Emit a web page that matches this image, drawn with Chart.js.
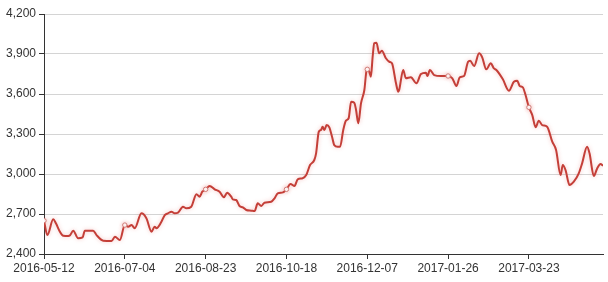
<!DOCTYPE html>
<html>
<head>
<meta charset="utf-8">
<script src="https://cdn.jsdelivr.net/npm/chart.js@4"></script>
<style>
html,body{margin:0;padding:0;background:#fff;}
#wrap{width:608px;height:282px;}
</style>
</head>
<body>
<div id="wrap"><canvas id="c" width="608" height="282"></canvas></div>
<script>
// trading-day index of each sampled point
const tradingDay = [0,1.5,4.1,5.3,7.1,8.6,10.8,11.6,13.0,15.2,17.2,18.2,21.9,23.4,26.4,30.1,31.6,33.8,
36,37.5,39.0,40.4,43.4,45.6,47.9,49.3,50.1,52.3,53.8,55.2,56.8,58.2,59.7,61.9,63.4,65.6,67.9,69.3,70.5,
72,73.8,76.0,78.2,80.1,81.6,83.4,84.1,85.6,87.1,88.6,90.1,92.3,93.8,95.2,96.8,98.2,101.2,102.7,104.1,106.4,
108,109.8,111.6,113.0,115.2,116.8,118.5,120.4,121.2,122.4,123.4,124.1,124.9,125.9,127.1,128.3,129.3,130.8,131.9,133.3,134.5,135.7,136.8,138.2,139.0,140.0,141.2,142.7,143.7,
144,144.9,145.6,146.4,147.1,148.1,149.3,150.5,152.3,153.8,155.0,156.8,157.8,158.2,160.0,161.2,163.4,165.9,167.9,170.1,170.8,171.9,173.8,176.8,
180,181.9,183.7,185.2,187.1,188.9,189.8,191.6,193.8,195.2,197.0,199.0,200.4,201.5,204.4,207.1,209.3,210.8,211.9,213.3,214.5,
216,217.5,219.0,220.4,221.9,224.1,226.4,228.1,230.1,231.1,232.3,234.1,236.0,238.2,239.7,241.9,243.0,244.9,246.4,247.9,249];
// price values
const closePrice = [2650,2542,2660,2630,2567,2537,2535,2540,2575,2518,2525,2575,2575,2542,2500,2497,2530,2505,
2617,2605,2617,2593,2705,2668,2567,2605,2593,2642,2692,2705,2717,2705,2710,2755,2743,2755,2848,2830,2867,
2885,2910,2885,2867,2825,2860,2830,2810,2805,2760,2750,2730,2725,2722,2780,2760,2785,2792,2818,2855,2862,
2885,2925,2910,2960,2968,2992,3067,3105,3155,3317,3330,3355,3330,3367,3350,3280,3217,3205,3205,3330,3400,3418,3542,3535,3480,3380,3530,3630,3780,
3785,3767,3730,3880,3980,3985,3905,3925,3868,3842,3830,3680,3617,3630,3780,3718,3725,3680,3750,3760,3735,3780,3742,3735,
3735,3718,3660,3725,3735,3842,3850,3810,3905,3875,3785,3830,3792,3780,3710,3625,3692,3700,3660,3650,3592,
3500,3442,3350,3400,3367,3355,3242,3180,2992,3067,3030,2917,2942,3005,3080,3205,3155,2985,3042,3075,3062];
// x-axis tick labels (every 36 trading days)
const dateLabels = ['2016-05-12','2016-07-04','2016-08-23','2016-10-18','2016-12-07','2017-01-26','2017-03-23'];
const labelStep = 36;
const lastDay = 249;
// y-axis ticks
const yTicks = [2400,2700,3000,3300,3600,3900,4200];

const points = tradingDay.map((d,i)=>({x:d,y:closePrice[i]}));

const glow = {
  id:'glow',
  beforeDatasetDraw(chart){const c=chart.ctx;c.save();c.shadowColor='rgba(230,110,105,0.4)';c.shadowBlur=4;},
  afterDatasetDraw(chart){chart.ctx.restore();}
};

new Chart(document.getElementById('c'),{
  type:'line',
  data:{datasets:[{
    data:points,
    borderColor:'#c43f38',
    borderWidth:2,
    cubicInterpolationMode:'monotone',
    pointRadius:ctx=>{const v=ctx.raw&&ctx.raw.x;return (v%labelStep===0)?2.2:0;},
    pointBackgroundColor:'#fff',
    pointBorderColor:'#cf7a75',
    pointBorderWidth:1,
    fill:false
  }]},
  options:{
    responsive:false,
    animation:false,
    events:[],
    layout:{padding:{top:14,right:4,left:0,bottom:0}},
    plugins:{legend:{display:false},tooltip:{enabled:false}},
    scales:{
      x:{
        type:'linear',
        min:0,max:lastDay,
        afterFit:s=>{s.height=28;},
        border:{color:'#333',width:1},
        grid:{drawOnChartArea:false,drawTicks:true,tickLength:5,tickColor:'#333'},
        ticks:{
          stepSize:labelStep,
          includeBounds:false,
          autoSkip:false,
          maxRotation:0,
          padding:2,
          color:'#333',
          font:{family:'Liberation Sans',size:12},
          callback:v=>dateLabels[Math.round(v/labelStep)]||''
        }
      },
      y:{
        min:2400,max:4200,
        afterFit:s=>{s.width=44;},
        afterBuildTicks:s=>{s.ticks=yTicks.map(v=>({value:v}));},
        border:{color:'#333',width:1},
        grid:{color:'#d4d4d4',lineWidth:1,drawTicks:true,tickLength:5,tickColor:'#333'},
        ticks:{
          padding:3,
          color:'#333',
          font:{family:'Liberation Sans',size:12},
          callback:v=>v.toLocaleString('en-US')
        }
      }
    }
  },
  plugins:[glow]
});
</script>
</body>
</html>
